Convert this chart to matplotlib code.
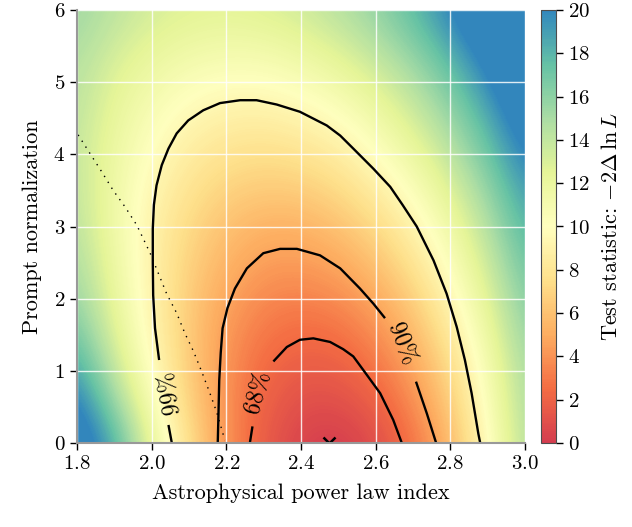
import numpy as np
import matplotlib
matplotlib.use("Agg")
import matplotlib.pyplot as plt
from matplotlib.colors import ListedColormap

plt.rcParams["font.family"] = "serif"
plt.rcParams["font.serif"] = ["cmr10"]
plt.rcParams["mathtext.fontset"] = "cm"
plt.rcParams["axes.formatter.use_mathtext"] = True

# test statistic grid (rows: normalization, cols: index)
ts_index = [1.8, 1.9, 2.0, 2.1, 2.2, 2.3, 2.4, 2.5, 2.6, 2.7, 2.8, 2.9, 3.0]
ts_norm = [0.0, 0.5, 1.0, 1.5, 2.0, 2.5, 3.0, 3.5, 4.0, 4.5, 5.0, 5.5, 6.0]
ts_values = [
    [22.0, 18.5, 12.0, 7.5, 4.0, 1.6, 0.3, 0.0, 0.8, 2.7, 5.6, 9.6, 14.7],
    [21.0, 16.0, 10.8, 6.9, 3.9, 1.9, 0.9, 0.8, 1.7, 3.6, 6.4, 10.2, 15.0],
    [19.0, 14.0, 9.8, 6.5, 4.0, 2.3, 1.6, 1.7, 2.7, 4.5, 7.2, 10.8, 15.2],
    [17.2, 12.8, 9.3, 6.4, 4.2, 2.9, 2.4, 2.6, 3.7, 5.5, 8.2, 11.6, 15.8],
    [15.8, 12.1, 9.0, 6.5, 4.7, 3.6, 3.3, 3.7, 4.8, 6.6, 9.2, 12.5, 16.5],
    [15.0, 11.7, 8.9, 6.8, 5.3, 4.4, 4.3, 4.8, 6.0, 7.8, 10.3, 13.5, 17.3],
    [14.4, 11.4, 9.0, 7.2, 6.0, 5.3, 5.3, 6.0, 7.2, 9.0, 11.4, 14.5, 18.2],
    [14.1, 11.5, 9.3, 7.8, 6.8, 6.4, 6.5, 7.2, 8.5, 10.3, 12.7, 15.7, 19.2],
    [14.0, 11.7, 9.9, 8.5, 7.8, 7.5, 7.8, 8.5, 9.9, 11.7, 14.1, 17.0, 20.4],
    [14.2, 12.1, 10.5, 9.4, 8.8, 8.7, 9.1, 9.9, 11.3, 13.2, 15.5, 18.3, 21.6],
    [14.4, 12.6, 11.3, 10.4, 10.0, 10.0, 10.5, 11.4, 12.8, 14.6, 16.9, 19.7, 22.9],
    [14.9, 13.4, 12.3, 11.6, 11.3, 11.4, 12.0, 13.0, 14.4, 16.2, 18.5, 21.2, 24.4],
    [15.4, 14.2, 13.2, 12.7, 12.5, 12.8, 13.4, 14.4, 15.7, 17.6, 20.0, 23.0, 26.0],
]

# confidence contours (split where the labels sit)
c99_lo_x = [2.054, 2.045]
c99_lo_y = [0.0, 0.25]
c99_x = [2.020, 2.009, 2.004, 2.003, 2.003, 2.006, 2.013, 2.027, 2.045, 2.067,
         2.098, 2.138, 2.183, 2.237, 2.281, 2.335, 2.397, 2.469, 2.505, 2.540,
         2.594, 2.639, 2.672, 2.710, 2.755, 2.790, 2.817, 2.839, 2.857, 2.875,
         2.880]
c99_y = [1.15, 1.59, 2.05, 2.51, 2.97, 3.30, 3.57, 3.85, 4.08, 4.29,
         4.47, 4.61, 4.71, 4.75, 4.75, 4.69, 4.59, 4.40, 4.26, 4.08,
         3.80, 3.55, 3.30, 3.00, 2.53, 2.07, 1.61, 1.15, 0.69, 0.13,
         0.0]
c90_x = [2.177, 2.179, 2.181, 2.185, 2.190, 2.203, 2.223, 2.255, 2.299, 2.344,
         2.389, 2.451, 2.505, 2.558, 2.594, 2.625]
c90_y = [0.0, 0.41, 0.87, 1.25, 1.59, 1.87, 2.14, 2.42, 2.63, 2.69,
         2.69, 2.60, 2.42, 2.14, 1.93, 1.73]
c90_lo_x = [2.708, 2.737, 2.762]
c90_lo_y = [0.85, 0.41, 0.0]
c68_lo_x = [2.263, 2.270]
c68_lo_y = [0.0, 0.23]
c68_x = [2.326, 2.362, 2.397, 2.433, 2.478, 2.513, 2.540, 2.567, 2.612, 2.647, 2.670]
c68_y = [1.13, 1.33, 1.43, 1.45, 1.40, 1.30, 1.20, 1.01, 0.69, 0.32, 0.0]

# dotted boundary line
bound_x = [1.803, 1.835, 1.866, 1.897, 1.929, 1.960, 1.973, 1.996, 2.018, 2.040,
           2.067, 2.089, 2.112, 2.134, 2.156, 2.174, 2.196]
bound_y = [4.27, 4.01, 3.76, 3.50, 3.27, 3.02, 2.88, 2.63, 2.35, 2.07,
           1.80, 1.52, 1.27, 0.99, 0.69, 0.43, 0.04]

best_fit = (2.475, 0.0)

labels = ["99%", "68%", "90%"]
label_x = [2.047, 2.285, 2.668]
label_y = [0.70, 0.70, 1.37]
label_rot = [100, 75, -68]

cmap = ListedColormap(plt.get_cmap("Spectral")(np.linspace(0.1, 0.9, 256)))

fig = plt.figure(figsize=(6.32, 5.27), dpi=100)
ax = fig.add_axes([77 / 632, 84 / 527, 448 / 632, 433 / 527])
cax = fig.add_axes([541 / 632, 84 / 527, 15 / 632, 433 / 527])

dx = (ts_index[1] - ts_index[0]) / 2
dy = (ts_norm[1] - ts_norm[0]) / 2
im = ax.imshow(np.array(ts_values), origin="lower", aspect="auto", cmap=cmap,
               vmin=0, vmax=20, interpolation="bicubic", interpolation_stage="data",
               extent=[ts_index[0] - dx, ts_index[-1] + dx, ts_norm[0] - dy, ts_norm[-1] + dy])

for xs, ys in [(c99_lo_x, c99_lo_y), (c99_x, c99_y), (c90_x, c90_y),
               (c90_lo_x, c90_lo_y), (c68_lo_x, c68_lo_y), (c68_x, c68_y)]:
    ax.plot(xs, ys, color="black", lw=1.7, solid_capstyle="butt", solid_joinstyle="round")

ax.plot(bound_x, bound_y, color="black", lw=1.0, ls=(0, (1, 4)))
ax.plot(best_fit[0], best_fit[1], "kx", ms=8, mew=1.8)

for t, x, y, r in zip(labels, label_x, label_y, label_rot):
    ax.text(x, y, t, rotation=r, rotation_mode="anchor", ha="center", va="center",
            fontsize=17)

ax.set_xlim(1.8, 3.0)
ax.set_ylim(0, 6)
ax.set_xticks(np.arange(1.8, 3.01, 0.2))
ax.set_yticks(range(0, 7))
ax.grid(True, color="white", lw=1.0, alpha=0.85)
ax.tick_params(direction="out", length=5, width=1, labelsize=15, color="black")
for s in ["top", "right"]:
    ax.spines[s].set_visible(False)
for s in ["left", "bottom"]:
    ax.spines[s].set_color("0.6")
    ax.spines[s].set_linewidth(1.5)
ax.set_xlabel("Astrophysical power law index", fontsize=16, labelpad=8)
ax.set_ylabel("Prompt normalization", fontsize=16, labelpad=8)

cb = fig.colorbar(im, cax=cax)
cb.set_ticks(range(0, 21, 2))
cb.ax.tick_params(direction="out", length=5, width=1, labelsize=15)
cb.outline.set_edgecolor("0.3")
cb.set_label(r"Test statistic: $-2\Delta\,\ln L$", fontsize=16, labelpad=8)

fig.savefig("out.png", dpi=100)
